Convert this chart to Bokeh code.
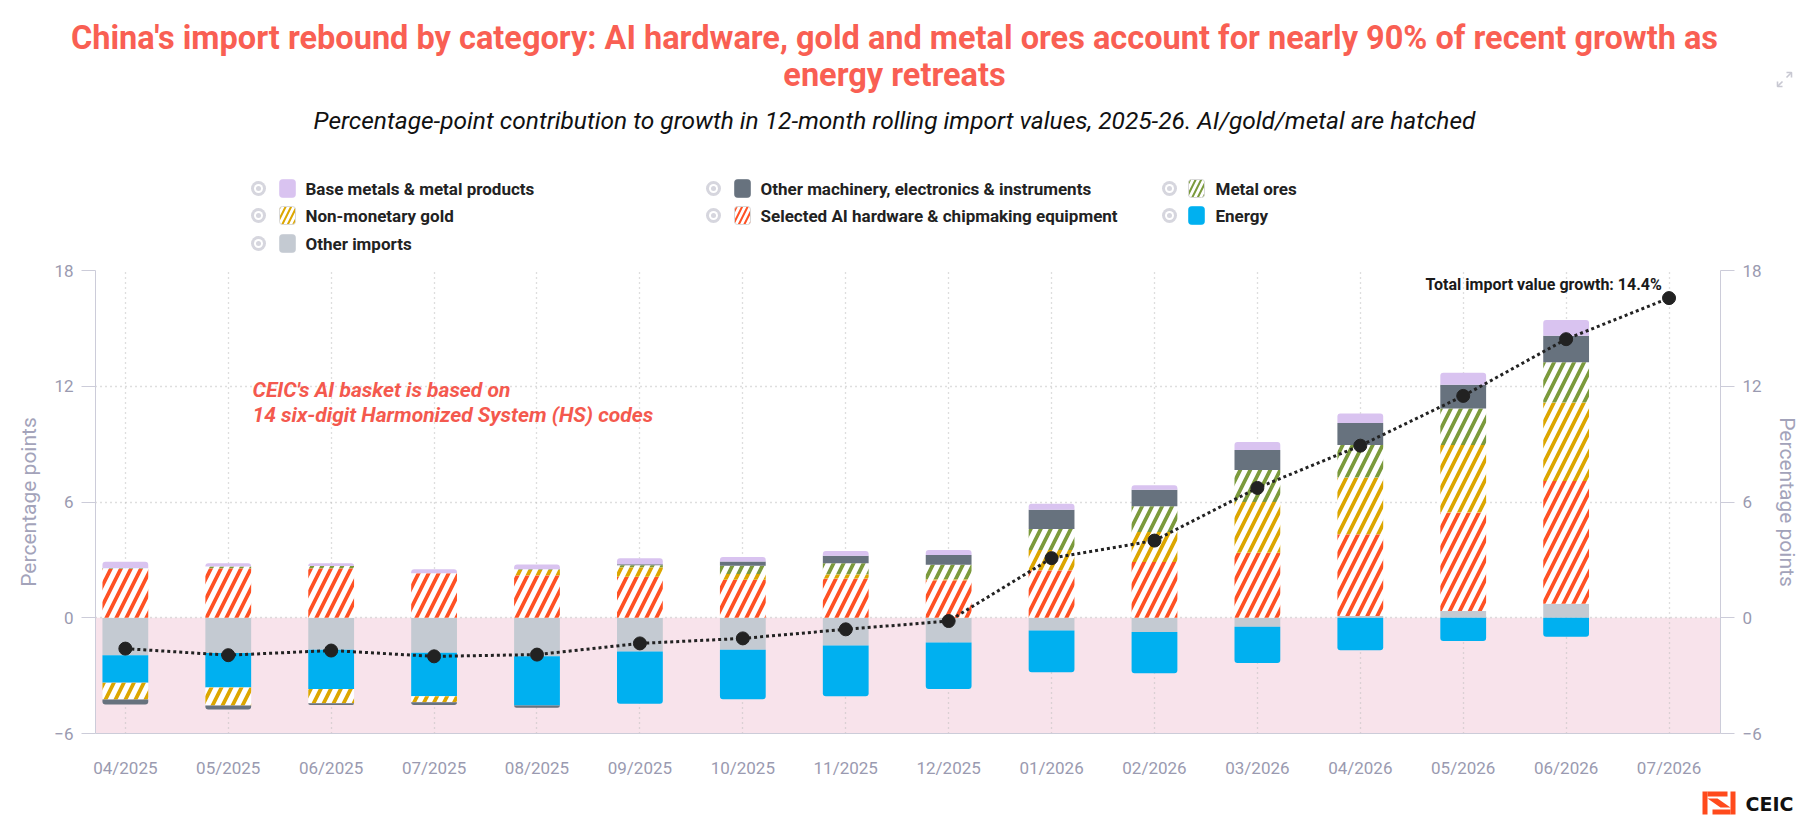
import numpy as np
from bokeh.plotting import figure
from bokeh.models import Range1d, LinearAxis, FixedTicker, BoxAnnotation, Label
from bokeh.layouts import column
from bokeh.embed import file_html
from bokeh.resources import INLINE
from bokeh.core.properties import value

# ---------------- data ----------------
months = ["04/2025", "05/2025", "06/2025", "07/2025", "08/2025", "09/2025", "10/2025",
          "11/2025", "12/2025", "01/2026", "02/2026", "03/2026", "04/2026", "05/2026",
          "06/2026", "07/2026"]
bar_months = months[:15]

base_metals = [0.34, 0.16, 0.14, 0.21, 0.25, 0.31, 0.23, 0.24, 0.26, 0.31, 0.24, 0.41, 0.49, 0.62, 0.81]
other_machinery = [-0.26, -0.21, -0.09, -0.14, -0.12, 0.05, 0.23, 0.40, 0.50, 1.00, 0.85, 1.04, 1.14, 1.23, 1.37]
metal_ores = [0.03, 0.10, 0.12, 0.00, 0.03, 0.10, 0.42, 0.56, 0.76, 1.09, 1.33, 1.66, 1.69, 1.89, 2.09]
gold = [-0.87, -0.93, -0.74, -0.31, 0.28, 0.50, 0.30, 0.23, 0.05, 1.05, 1.56, 2.63, 2.94, 3.51, 4.07]
ai_hardware = [2.53, 2.56, 2.56, 2.31, 2.20, 2.12, 1.97, 2.03, 1.94, 2.46, 2.89, 3.37, 4.24, 5.10, 6.36]
energy = [-1.42, -1.79, -2.03, -2.25, -2.56, -2.71, -2.56, -2.63, -2.41, -2.16, -2.14, -1.87, -1.68, -1.21, -0.99]
other_imports = [-1.95, -1.83, -1.66, -1.82, -1.99, -1.75, -1.66, -1.44, -1.28, -0.66, -0.74, -0.47, 0.09, 0.35, 0.73]
total_growth = [-1.60, -1.94, -1.70, -2.00, -1.91, -1.33, -1.07, -0.60, -0.17, 3.09, 4.00, 6.73, 8.92,
                11.50, 14.44, 16.57]

series_names = ["Base metals & metal products", "Other machinery, electronics & instruments",
                "Metal ores", "Non-monetary gold", "Selected AI hardware & chipmaking equipment",
                "Energy", "Other imports"]
series_values = [base_metals, other_machinery, metal_ores, gold, ai_hardware, energy, other_imports]
series_colors = ["#D9C3F0", "#67727E", "#7B9A3C", "#DCA600", "#FF5124", "#00B0F0", "#C4CAD2"]
series_hatched = [False, False, True, True, True, False, False]

title_line1 = "China's import rebound by category: AI hardware, gold and metal ores account for nearly 90% of recent growth as"
title_line2 = "energy retreats"
subtitle = "Percentage-point contribution to growth in 12-month rolling import values, 2025-26. AI/gold/metal are hatched"
note_lines = ["CEIC's AI basket is based on", "14 six-digit Harmonized System (HS) codes"]
total_label = "Total import value growth: 14.4%"
axis_title = "Percentage points"
y_ticks = [-6, 0, 6, 12, 18]

FONT = value("Roboto")
W = 1812
BL, BR = 95, 92          # left / right borders (frame 95..1720)
RED = "#F95F53"
AXIS_COL = "#CCCCD9"
TICK_TXT = "#9A9AB0"


def blank(height):
    f = figure(width=W, height=height, x_range=Range1d(0, W), y_range=Range1d(height, 0),
               x_axis_type=None, y_axis_type=None, toolbar_location=None, output_backend="svg",
               min_border=0, outline_line_color=None, background_fill_color="white",
               border_fill_color="white")
    f.frame_align = False
    f.grid.visible = False
    return f


# ---------------- header ----------------
hdr = blank(258)
hdr.text(x=[894], y=[37], text=[title_line1], text_font=FONT, text_font_size="32.5px",
         text_font_style="bold", text_color=RED, text_align="center", text_baseline="middle")
hdr.text(x=[894], y=[74], text=[title_line2], text_font=FONT, text_font_size="32.5px",
         text_font_style="bold", text_color=RED, text_align="center", text_baseline="middle")
hdr.text(x=[894], y=[120], text=[subtitle], text_font=FONT, text_font_size="24.5px",
         text_font_style="italic", text_color="#111111", text_align="center", text_baseline="middle")
# fullscreen icon
hdr.multi_line(xs=[[1777, 1782], [1777, 1777, 1782], [1786, 1791], [1786, 1791, 1791]],
               ys=[[86, 81], [81, 86, 86], [77, 72], [72, 72, 77]],
               line_color="#C8C8D2", line_width=1.6)

eye_x = [258, 713, 1169]
sw_x = [287, 742, 1196]
txt_x = [305, 760, 1215]
row_y = [188, 215, 243]
for i, name in enumerate(series_names):
    c = i % 3
    r = i // 3
    ex, sx, tx, ry = eye_x[c], sw_x[c], txt_x[c], row_y[r]
    hdr.scatter([ex], [ry], size=15, fill_color="#D6D6DE", line_color=None)
    hdr.scatter([ex], [ry], size=9, fill_color="white", line_color=None)
    hdr.scatter([ex], [ry], size=5, fill_color="#D6D6DE", line_color=None)
    if series_hatched[i]:
        hdr.quad(left=[sx - 8], right=[sx + 8], top=[ry - 9], bottom=[ry + 9], fill_color="white",
                 hatch_pattern="/", hatch_color=series_colors[i], hatch_scale=11, hatch_weight=2,
                 line_color="#D8D8D8", line_width=1, border_radius=3)
    else:
        hdr.quad(left=[sx - 8], right=[sx + 8], top=[ry - 9], bottom=[ry + 9],
                 fill_color=series_colors[i], line_color=series_colors[i], line_alpha=0.6,
                 line_width=1, border_radius=3)
    hdr.text(x=[tx], y=[ry], text=[name], text_font=FONT, text_font_size="17px",
             text_font_style="bold", text_color="#222222", text_align="left", text_baseline="middle")

# ---------------- main chart ----------------
xi = np.arange(len(months))
p = figure(width=W, height=527, x_range=Range1d(-0.29, 15.5), y_range=Range1d(-6, 18),
           toolbar_location=None, output_backend="svg",
           min_border_left=BL, min_border_right=BR, min_border_top=12, min_border_bottom=52,
           outline_line_color=None, background_fill_color="white", border_fill_color="white")
p.frame_align = False

p.add_layout(BoxAnnotation(bottom=-6, top=0, fill_color="#F8E3EB", fill_alpha=1.0,
                           line_color=None, level="image"))

for g in (p.xgrid[0], p.ygrid[0]):
    g.grid_line_color = "#BDBDBD"
    g.grid_line_dash = "1 4"
    g.grid_line_width = 1.3
p.ygrid[0].ticker = FixedTicker(ticks=y_ticks)
p.xgrid[0].ticker = FixedTicker(ticks=list(xi))

# stacking (from zero outward)
stack_order = [6, 5, 4, 3, 2, 1, 0]
n = len(bar_months)
bx = xi[:n]
pos = np.zeros(n)
neg = np.zeros(n)
segs = {}
top_owner = np.full(n, -1)
bot_owner = np.full(n, -1)
for k in stack_order:
    v = np.array(series_values[k], dtype=float)
    b = np.where(v >= 0, pos, neg)
    t = b + v
    pos = np.where(v > 0, t, pos)
    neg = np.where(v < 0, t, neg)
    top_owner[v > 0] = k
    bot_owner[v < 0] = k
    segs[k] = (np.maximum(b, t), np.minimum(b, t), v)

BW = 0.445
for k in stack_order:
    hi, lo, v = segs[k]
    nz = v != 0
    cap_t = nz & (top_owner == k) & (v > 0)
    cap_b = nz & (bot_owner == k) & (v < 0)
    plain = nz & ~cap_t & ~cap_b
    for mask, rad in ((plain, 0), (cap_t, (3, 3, 0, 0)), (cap_b, (0, 0, 3, 3))):
        idx = np.where(mask)[0]
        if len(idx) == 0:
            continue
        kw = dict(x=bx[idx], top=hi[idx], bottom=lo[idx], width=BW, line_color=None, border_radius=rad)
        if series_hatched[k]:
            p.vbar(fill_color="white", hatch_pattern="/", hatch_color=series_colors[k],
                   hatch_scale=20, hatch_weight=3.8, **kw)
        else:
            p.vbar(fill_color=series_colors[k], **kw)

p.line(xi, total_growth, line_color="#222222", line_width=3, line_dash="3 3")
p.scatter(xi, total_growth, size=13, fill_color="#222222", line_color="#222222")

# axes
right = LinearAxis()
p.add_layout(right, "right")
for ax in (p.yaxis[0], right):
    ax.ticker = FixedTicker(ticks=y_ticks)
    ax.axis_line_color = AXIS_COL
    ax.major_tick_line_color = AXIS_COL
    ax.major_tick_out = 14
    ax.major_tick_in = 0
    ax.minor_tick_line_color = None
    ax.major_label_standoff = 8
    ax.major_label_text_font = "Roboto"
    ax.major_label_text_font_size = "17px"
    ax.major_label_text_color = TICK_TXT
    ax.axis_label = axis_title
    ax.axis_label_text_font = "Roboto"
    ax.axis_label_text_font_size = "21px"
    ax.axis_label_text_font_style = "normal"
    ax.axis_label_text_color = "#A3A3BA"
    ax.axis_label_standoff = 10

xa = p.xaxis[0]
xa.ticker = FixedTicker(ticks=list(xi))
xa.major_label_overrides = {int(i): m for i, m in zip(xi, months)}
xa.axis_line_color = AXIS_COL
xa.major_tick_line_color = None
xa.minor_tick_line_color = None
xa.major_tick_out = 0
xa.major_tick_in = 0
xa.major_label_standoff = 24
xa.major_label_text_font = "Roboto"
xa.major_label_text_font_size = "17px"
xa.major_label_text_color = TICK_TXT

for i, line in enumerate(note_lines):
    p.add_layout(Label(x=1.236, y=11.78 - 1.25 * i, text=line, text_font="Roboto",
                       text_font_size="21px", text_font_style="bold italic", text_color="#F4594E",
                       text_align="left", text_baseline="middle"))

p.add_layout(Label(x=14.93, y=total_growth[-1] + 0.7, text=total_label, text_font="Roboto",
                   text_font_size="16px", text_font_style="bold", text_color="#1A1A1A",
                   text_align="right", text_baseline="middle"))

# ---------------- footer (logo) ----------------
ftr = blank(45)
LOGO = "#FF4A1C"
ftr.quad(left=[1702, 1730, 1707, 1712], right=[1707, 1735, 1727, 1730],
         top=[6, 6, 6, 24], bottom=[29, 29, 11, 29], fill_color=LOGO, line_color=None)
ftr.patch([1707, 1717, 1730, 1720], [13, 13, 22, 22], fill_color=LOGO, line_color=None)
ftr.text(x=[1745], y=[18], text=["CEIC"], text_font=value("DejaVu Sans"), text_font_size="19px",
         text_font_style="bold", text_color="#111111", text_align="left", text_baseline="middle")

layout = column(hdr, p, ftr, spacing=0)
open("out.html", "w").write(file_html(layout, INLINE))
